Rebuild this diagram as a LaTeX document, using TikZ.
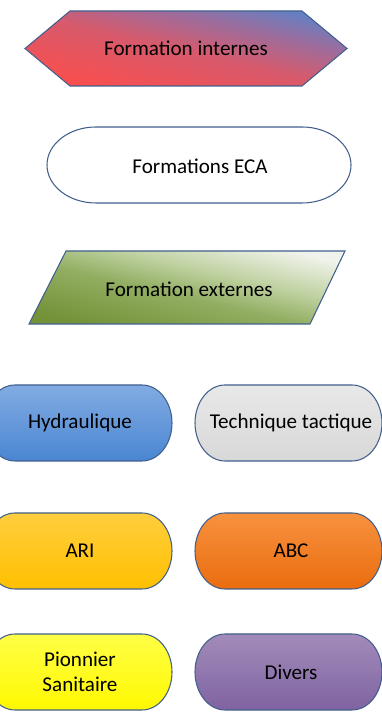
\documentclass[tikz,border=0pt]{standalone}
\usepackage{fontspec}
\setmainfont{Carlito}
\definecolor{BorderColor}{RGB}{65,95,140}
\definecolor{InterneRed}{RGB}{250,78,78}
\definecolor{InternePink}{RGB}{215,90,108}
\definecolor{InterneMid}{RGB}{158,108,155}
\definecolor{InterneBlue}{RGB}{100,128,195}
\definecolor{ExterneDark}{RGB}{116,146,56}
\definecolor{ExterneMid}{RGB}{146,174,98}
\definecolor{ExternePale}{RGB}{192,210,162}
\definecolor{ExterneLight}{RGB}{240,243,235}
\definecolor{HydroTop}{RGB}{130,171,226}
\definecolor{HydroBottom}{RGB}{74,134,210}
\definecolor{TactiqueTop}{RGB}{232,232,232}
\definecolor{TactiqueBottom}{RGB}{216,216,216}
\definecolor{AriTop}{RGB}{255,206,62}
\definecolor{AriBottom}{RGB}{255,192,0}
\definecolor{AbcTop}{RGB}{247,146,63}
\definecolor{AbcBottom}{RGB}{234,108,14}
\definecolor{PionnierTop}{RGB}{255,255,70}
\definecolor{PionnierBottom}{RGB}{255,248,0}
\definecolor{DiversTop}{RGB}{162,139,186}
\definecolor{DiversBottom}{RGB}{127,99,161}
\usetikzlibrary{positioning}
\pgfdeclareverticalshading{interneshade}{100bp}{color(0bp)=(InterneRed); color(25bp)=(InterneRed);
    color(49bp)=(InternePink); color(63bp)=(InterneMid); color(75bp)=(InterneBlue); color(100bp)=(InterneBlue)}
\pgfdeclareverticalshading{externeshade}{100bp}{color(0bp)=(ExterneDark); color(25bp)=(ExterneDark);
    color(46bp)=(ExterneMid); color(59bp)=(ExternePale); color(75bp)=(ExterneLight); color(100bp)=(ExterneLight)}
\tikzstyle{shapeline} = [draw=BorderColor, line width=0.6pt]
\tikzstyle{boxtext} = [font=\fontsize{12}{14.4}\selectfont, text=black, align=center]

\begin{document}
\begin{tikzpicture}[x=0.2mm, y=0.2mm]
    \useasboundingbox (0,0) rectangle (382,713);
    \clip (0,0) rectangle (382,713);

    % Formation internes
    \shade[shapeline, shading=interneshade, shading angle=-13]
        (25,664.5) -- (70,702) -- (302,702) -- (347,664.5) -- (302,627) -- (70,627) -- cycle;
    \node[boxtext] (internes) at (186,664.5) {Formation internes};

    % Formations ECA
    \draw[shapeline, fill=white] (96,586) -- (302,586)
        arc[start angle=90, end angle=-90, x radius=9.8mm, y radius=7.6mm] -- (96,510)
        arc[start angle=270, end angle=90, x radius=9.8mm, y radius=7.6mm] -- cycle;
    \node[boxtext] (eca) at (200,547) {Formations ECA};

    % Formation externes
    \shade[shapeline, shading=externeshade, shading angle=-13]
        (29,389) -- (66,462) -- (345,462) -- (310,389) -- cycle;
    \node[boxtext] (externes) at (189,424) {Formation externes};

    % Hydraulique
    \shade[shapeline, top color=HydroTop, bottom color=HydroBottom] (15,328) -- (142,328)
        arc[start angle=90, end angle=-90, x radius=6mm, y radius=7.6mm] -- (15,252)
        arc[start angle=270, end angle=90, x radius=6mm, y radius=7.6mm] -- cycle;
    \node[boxtext] (hydraulique) at (80,290) {Hydraulique};

    % Technique tactique
    \shade[shapeline, top color=TactiqueTop, bottom color=TactiqueBottom] (225,328) -- (352,328)
        arc[start angle=90, end angle=-90, x radius=6mm, y radius=7.6mm] -- (225,252)
        arc[start angle=270, end angle=90, x radius=6mm, y radius=7.6mm] -- cycle;
    \node[boxtext] (tactique) at (291,290) {Technique tactique};

    % ARI
    \shade[shapeline, top color=AriTop, bottom color=AriBottom] (15,200) -- (142,200)
        arc[start angle=90, end angle=-90, x radius=6mm, y radius=7.6mm] -- (15,124)
        arc[start angle=270, end angle=90, x radius=6mm, y radius=7.6mm] -- cycle;
    \node[boxtext] (ari) at (80,162) {ARI};

    % ABC
    \shade[shapeline, top color=AbcTop, bottom color=AbcBottom] (225,200) -- (352,200)
        arc[start angle=90, end angle=-90, x radius=6mm, y radius=7.6mm] -- (225,124)
        arc[start angle=270, end angle=90, x radius=6mm, y radius=7.6mm] -- cycle;
    \node[boxtext] (abc) at (291,162) {ABC};

    % Pionnier Sanitaire
    \shade[shapeline, top color=PionnierTop, bottom color=PionnierBottom] (15,79) -- (142,79)
        arc[start angle=90, end angle=-90, x radius=6mm, y radius=7.6mm] -- (15,3)
        arc[start angle=270, end angle=90, x radius=6mm, y radius=7.6mm] -- cycle;
    \node[boxtext] (pionnier) at (80,41) {Pionnier\\Sanitaire};

    % Divers
    \shade[shapeline, top color=DiversTop, bottom color=DiversBottom] (225,79) -- (352,79)
        arc[start angle=90, end angle=-90, x radius=6mm, y radius=7.6mm] -- (225,3)
        arc[start angle=270, end angle=90, x radius=6mm, y radius=7.6mm] -- cycle;
    \node[boxtext] (divers) at (291,41) {Divers};
\end{tikzpicture}
\end{document}
